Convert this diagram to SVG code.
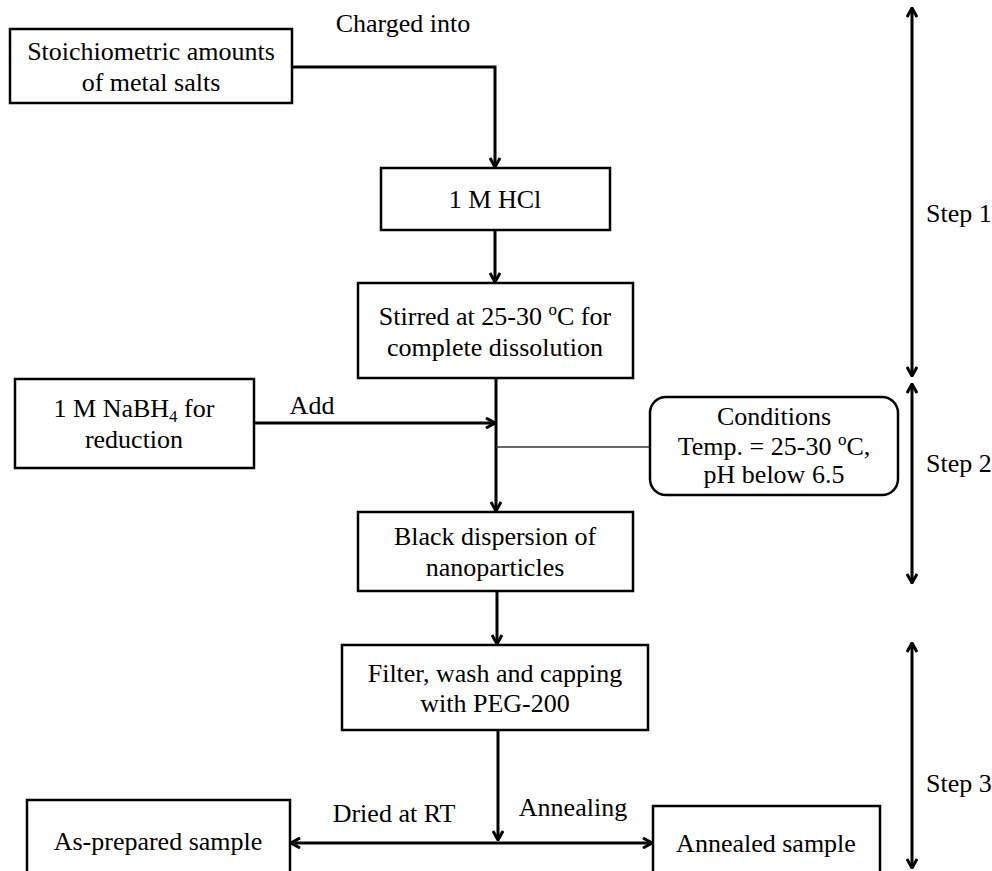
<svg xmlns="http://www.w3.org/2000/svg" width="992" height="871" viewBox="0 0 992 871">
  <defs>
    <marker id="chev" viewBox="0 0 12 12" refX="11" refY="6" markerWidth="12" markerHeight="12" markerUnits="userSpaceOnUse" orient="auto-start-reverse">
      <path d="M2,1 L11,6 L2,11" fill="none" stroke="#000" stroke-width="3"/>
    </marker>
  </defs>
  <style>
    text { font-family: "Liberation Serif", "Times New Roman", serif; font-size: 26px; fill: #000; text-anchor: middle; }
    .box { fill: #fff; stroke: #000; stroke-width: 2.5; }
    .flow { fill: none; stroke: #000; stroke-width: 3; }
    .arrow { fill: none; stroke: #000; stroke-width: 3; marker-end: url(#chev); }
    .both { fill: none; stroke: #000; stroke-width: 3; marker-start: url(#chev); marker-end: url(#chev); }
    .thin { fill: none; stroke: #333; stroke-width: 1.3; }
    .lbl { text-anchor: start; }
  </style>
  <rect width="992" height="871" fill="#fff"/>

  <!-- connectors -->
  <g id="connectors">
    <polyline class="arrow" points="292,67 495,67 495,167"/>
    <line class="arrow" x1="495" y1="230" x2="495" y2="282"/>
    <line class="arrow" x1="496" y1="378" x2="496" y2="511"/>
    <line class="arrow" x1="254" y1="423" x2="495" y2="423"/>
    <line class="thin" x1="496" y1="447" x2="650" y2="447"/>
    <line class="arrow" x1="497" y1="591" x2="497" y2="644"/>
    <line class="arrow" x1="498" y1="730" x2="498" y2="840"/>
    <line class="both" x1="291" y1="843" x2="652" y2="843"/>
    <text x="403" y="32">Charged into</text>
    <text x="312" y="414">Add</text>
    <text x="394" y="822">Dried at RT</text>
    <text x="573" y="816">Annealing</text>
  </g>

  <!-- step brackets -->
  <g id="steps">
    <line class="both" x1="912" y1="8" x2="912" y2="376"/>
    <line class="both" x1="912" y1="384" x2="912" y2="583"/>
    <line class="both" x1="912" y1="643" x2="912" y2="868"/>
    <text class="lbl" x="926" y="222">Step 1</text>
    <text class="lbl" x="926" y="472">Step 2</text>
    <text class="lbl" x="926" y="792">Step 3</text>
  </g>

  <g id="salts">
    <rect class="box" x="10" y="29" width="282" height="74"/>
    <text x="151" y="60">Stoichiometric amounts</text>
    <text x="151" y="91">of metal salts</text>
  </g>

  <g id="hcl">
    <rect class="box" x="381" y="168" width="229" height="62"/>
    <text x="495" y="208">1 M HCl</text>
  </g>

  <g id="stirred">
    <rect class="box" x="358" y="283" width="275" height="95"/>
    <text x="495" y="325">Stirred at 25-30 <tspan font-size="17" dy="-10">o</tspan><tspan dy="10">C for</tspan></text>
    <text x="495" y="356">complete dissolution</text>
  </g>

  <g id="nabh4">
    <rect class="box" x="15" y="379" width="239" height="89"/>
    <text x="134" y="417">1 M NaBH<tspan font-size="17" dy="5">4</tspan><tspan dy="-5"> for</tspan></text>
    <text x="134" y="448">reduction</text>
  </g>

  <g id="conditions">
    <rect class="box" x="650" y="397" width="248" height="98" rx="16" ry="16"/>
    <text x="774" y="425">Conditions</text>
    <text x="774" y="455">Temp. = 25-30 <tspan font-size="17" dy="-10">o</tspan><tspan dy="10">C,</tspan></text>
    <text x="774" y="483">pH below 6.5</text>
  </g>

  <g id="dispersion">
    <rect class="box" x="358" y="512" width="275" height="79"/>
    <text x="495" y="545">Black dispersion of</text>
    <text x="495" y="576">nanoparticles</text>
  </g>

  <g id="filter">
    <rect class="box" x="342" y="645" width="306" height="85"/>
    <text x="495" y="682">Filter, wash and capping</text>
    <text x="495" y="712">with PEG-200</text>
  </g>

  <g id="asprepared">
    <rect class="box" x="27" y="800" width="263" height="90"/>
    <text x="158" y="850">As-prepared sample</text>
  </g>

  <g id="annealed">
    <rect class="box" x="653" y="806" width="227" height="90"/>
    <text x="766" y="852">Annealed sample</text>
  </g>
</svg>
